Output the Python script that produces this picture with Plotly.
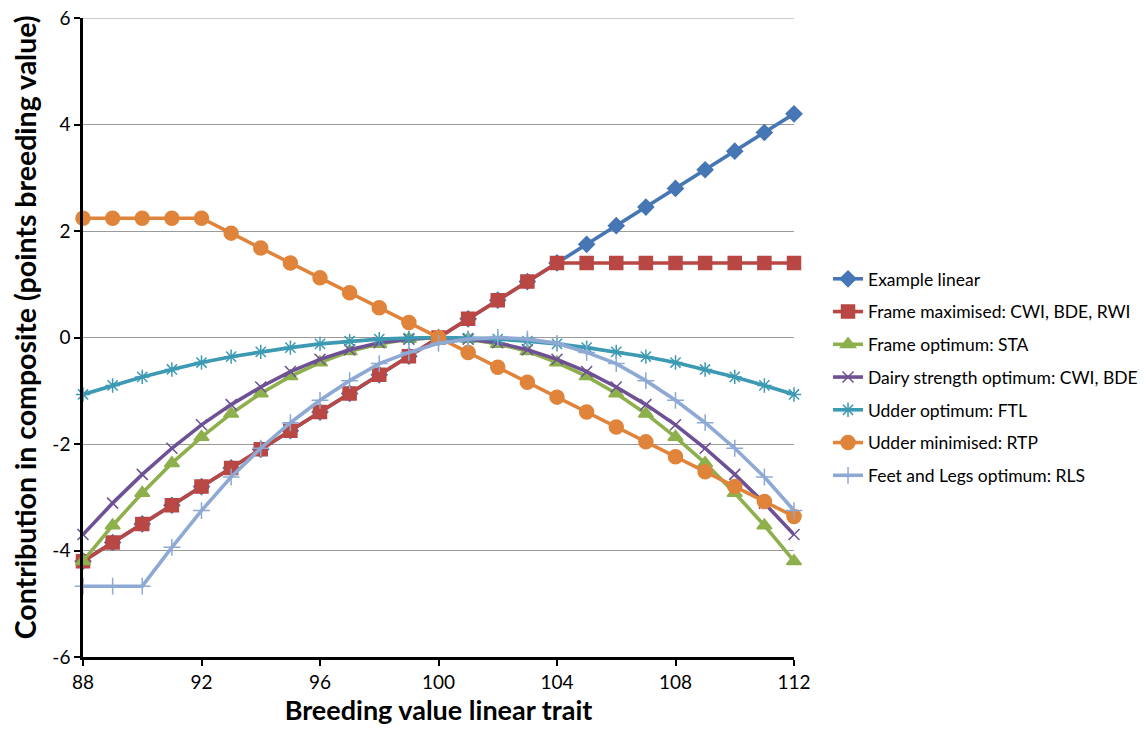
import plotly.graph_objects as go

x_values = list(range(88, 113))

example_linear = [-4.2, -3.85, -3.5, -3.15, -2.8, -2.45, -2.1, -1.75, -1.4, -1.05, -0.7, -0.35, 0.0,
                  0.35, 0.7, 1.05, 1.4, 1.75, 2.1, 2.45, 2.8, 3.15, 3.5, 3.85, 4.2]
frame_max = [-4.2, -3.85, -3.5, -3.15, -2.8, -2.45, -2.1, -1.75, -1.4, -1.05, -0.7, -0.35, 0.0,
             0.35, 0.7, 1.05, 1.4, 1.4, 1.4, 1.4, 1.4, 1.4, 1.4, 1.4, 1.4]
frame_opt = [-4.2, -3.53, -2.92, -2.36, -1.87, -1.43, -1.05, -0.73, -0.47, -0.26, -0.12, -0.03, 0.0,
             -0.03, -0.12, -0.26, -0.47, -0.73, -1.05, -1.43, -1.87, -2.36, -2.92, -3.53, -4.2]
dairy_opt = [-3.7, -3.11, -2.57, -2.08, -1.64, -1.26, -0.93, -0.64, -0.41, -0.23, -0.1, -0.03, 0.0,
             -0.03, -0.1, -0.23, -0.41, -0.64, -0.93, -1.26, -1.64, -2.08, -2.57, -3.11, -3.7]
udder_opt = [-1.07, -0.9, -0.74, -0.6, -0.47, -0.36, -0.27, -0.19, -0.12, -0.07, -0.03, -0.01, 0.0,
             -0.01, -0.03, -0.07, -0.12, -0.19, -0.27, -0.36, -0.47, -0.6, -0.74, -0.9, -1.07]
udder_min = [2.24, 2.24, 2.24, 2.24, 2.24, 1.96, 1.68, 1.4, 1.12, 0.84, 0.56, 0.28, 0.0,
             -0.28, -0.56, -0.84, -1.12, -1.4, -1.68, -1.96, -2.24, -2.52, -2.8, -3.08, -3.36]
feet_legs_opt = [-4.67, -4.67, -4.67, -3.94, -3.25, -2.62, -2.08, -1.6, -1.18, -0.81, -0.49, -0.28, -0.11,
                 -0.03, 0.0, -0.03, -0.11, -0.28, -0.49, -0.81, -1.18, -1.6, -2.08, -2.62, -3.25]

x_tick_vals = [88, 92, 96, 100, 104, 108, 112]
x_tick_text = ["88", "92", "96", "100", "104", "108", "112"]
y_tick_vals = [-6, -4, -2, 0, 2, 4, 6]
y_tick_text = ["-6", "-4", "-2", "0", "2", "4", "6"]

series = [
    ("Example linear", example_linear, "#4676B4", "diamond", 12),
    ("Frame maximised: CWI, BDE, RWI", frame_max, "#B94744", "square", 13),
    ("Frame optimum: STA", frame_opt, "#8DB04D", "triangle-up", 13),
    ("Dairy strength optimum: CWI, BDE", dairy_opt, "#6E5195", "x-thin-open", 11),
    ("Udder optimum: FTL", udder_opt, "#3C9AB2", "asterisk-open", 12),
    ("Udder minimised: RTP", udder_min, "#DF843A", "circle", 14),
    ("Feet and Legs optimum: RLS", feet_legs_opt, "#8EA9D3", "cross-thin-open", 12),
]

fig = go.Figure()
for i, (name, ys, color, sym, size) in enumerate(series):
    fig.add_trace(go.Scatter(
        x=x_values, y=ys, name=name, mode="lines+markers",
        line=dict(color=color, width=3.6),
        marker=dict(symbol=sym, size=size, color=color, line=dict(color=color, width=1.5)),
        cliponaxis=False, legendgroup=f"g{i}",
    ))

font_family = "Lato, 'Open Sans', sans-serif"
fig.update_layout(
    width=1144, height=735,
    margin=dict(l=83, r=350, t=18, b=78),
    paper_bgcolor="white", plot_bgcolor="white",
    font=dict(family=font_family, size=16, color="black"),
    showlegend=True,
    legend=dict(xref="container", yref="container", x=0.7238, y=0.645,
                xanchor="left", yanchor="top",
                font=dict(size=17.5, color="black"), tracegroupgap=7,
                bgcolor="rgba(0,0,0,0)"),
    xaxis=dict(range=[88, 112], tickvals=x_tick_vals, ticktext=x_tick_text,
               ticks="outside", ticklen=6, tickwidth=2, ticklabeloverflow="allow",
               tickcolor="black", showline=True, linecolor="black", linewidth=2.5,
               showgrid=False, zeroline=False, tickfont=dict(size=19), automargin=False,
               title=dict(text="<b>Breeding value linear trait</b>", font=dict(size=27), standoff=6)),
    yaxis=dict(range=[-6, 6], tickvals=y_tick_vals, ticktext=y_tick_text,
               ticks="outside", ticklen=6, tickwidth=2, ticklabeloverflow="allow",
               tickcolor="black", showline=True, linecolor="black", linewidth=2.5,
               showgrid=True, gridcolor="#9A9A9A", gridwidth=1.2, zeroline=False,
               tickfont=dict(size=19), automargin=False),
    shapes=[dict(type="line", xref="paper", yref="y", x0=0, x1=1, y0=6, y1=6,
                 line=dict(color="#9A9A9A", width=1.2), layer="below")],
    annotations=[dict(text="<b>Contribution in composite (points breeding value)</b>",
                      xref="paper", yref="paper", x=-0.0816, y=0.516,
                      xanchor="center", yanchor="middle", textangle=-90,
                      showarrow=False, font=dict(size=28.5, color="black"))],
)

fig.write_html("out.html", config={"displayModeBar": False},
               post_script="document.body.style.margin='0';document.body.style.overflow='hidden';")
